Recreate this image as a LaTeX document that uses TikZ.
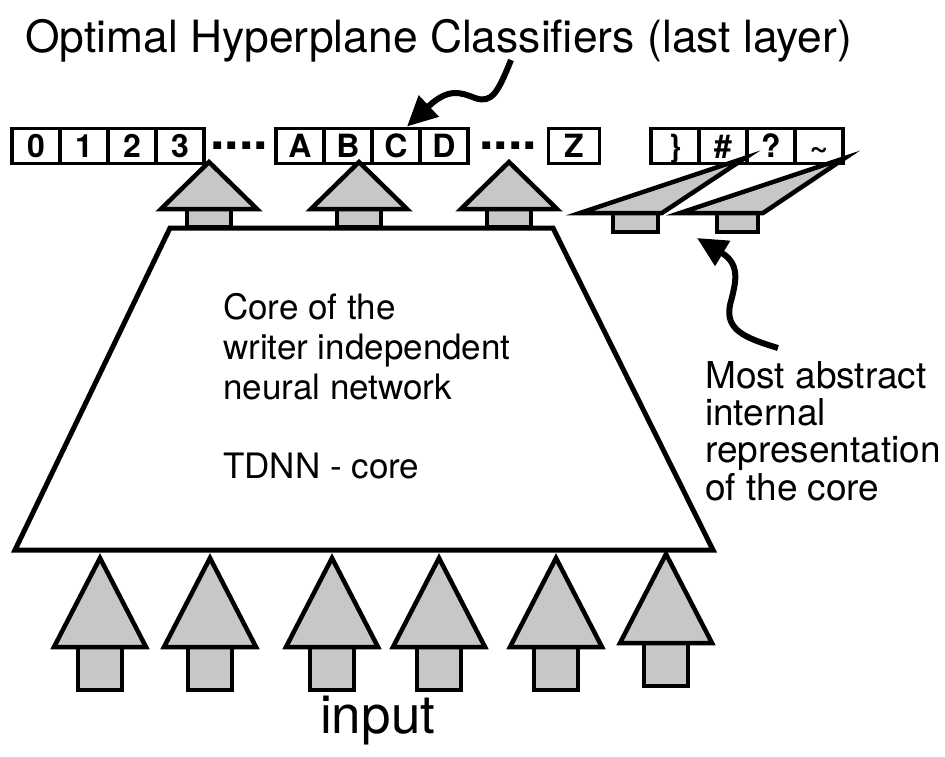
\documentclass[tikz,border=0pt]{standalone}
\usepackage{fontspec}
\setmainfont{TeX Gyre Heros}
\usetikzlibrary{positioning, arrows.meta}

\begin{document}
\begin{tikzpicture}[x=1pt, y=-1pt,
  cls/.style = {draw, line width=3.5pt, minimum width=48pt, minimum height=35pt, inner sep=0pt, outer sep=0pt, text height=23pt, text depth=0pt, font=\fontsize{32}{32}\selectfont\bfseries},
  ellip/.style = {inner sep=0pt, font=\fontsize{52}{52}\selectfont\bfseries},
  shade/.style = {draw, line width=4.5pt, fill=black!22},
  lbl/.style = {inner sep=0pt, align=left, font=\fontsize{35}{40}\selectfont},
  curl/.style = {line width=6pt, -{Triangle[length=30pt, width=28pt]}},
  bigup/.pic = {\draw[shade] (-22,0) rectangle (22,43); \draw[shade] (-46,0) -- (0,-89) -- (46,0) -- cycle;},
  topup/.pic = {\draw[shade] (-22,0) rectangle (22,18); \draw[shade] (-48,0) -- (0,-47) -- (48,0) -- cycle;}]
\useasboundingbox (0,0) rectangle (945,757);

\node[inner sep=0pt, anchor=base west, font=\fontsize{44.4}{44.4}\selectfont] (title) at (25,53) {Optimal Hyperplane Classifiers (last layer)};

\node[cls] (n0) at (36,146) {0};
\node[cls] (n1) [right=0pt of n0] {1};
\node[cls] (n2) [right=0pt of n1] {2};
\node[cls] (n3) [right=0pt of n2] {3};
\node[ellip] (dots1) [right=6pt of n3] {....};
\node[cls] (nA) at (300,146) {A};
\node[cls] (nB) [right=0pt of nA] {B};
\node[cls] (nC) [right=0pt of nB] {C};
\node[cls] (nD) [right=0pt of nC] {D};
\node[ellip] (dots2) [right=11pt of nD] {....};
\node[cls, minimum width=51pt] (nZ) at (574,146) {Z};
\node[cls] (nbr) at (675,146) {\}};
\node[cls] (nhash) [right=0pt of nbr] {\#};
\node[cls] (nq) [right=0pt of nhash] {?};
\node[cls] (ntil) [right=0pt of nq] {\textasciitilde};

\foreach \x in {209,359,509} \pic at (\x,209) {topup};
\draw[shade] (613,213) rectangle (658,232);
\draw[shade] (580,213) -- (745,158) -- (662,213) -- cycle;
\draw[shade] (717,213) rectangle (758,232);
\draw[shade] (680,213) -- (845,158) -- (763,213) -- cycle;

\draw[line width=5pt] (170,228) -- (553,228) -- (713,550) -- (15,550) -- cycle;

\node[lbl, anchor=north west] (core) at (223,293) {Core of the\\writer independent\\neural network};
\node[lbl, anchor=base west] (tdnn) at (223,478) {TDNN - core};
\node[lbl, anchor=north west, font=\fontsize{37}{37.3}\selectfont] (abstr) at (705,361) {Most abstract\\internal\\representation\\of the core};

\foreach \x in {100,210,332,439,556} \pic at (\x,647) {bigup};
\pic at (666,643) {bigup};

\node[inner sep=0pt, anchor=base west, font=\fontsize{53}{53}\selectfont] (inp) at (320,733) {input};

\coordinate (ctail) at (511,60);
\coordinate (rtail) at (778,348);
\coordinate (rtip) at (697,238);
\draw[curl] (ctail) .. controls (498,92) and (492,104) .. (475,98) .. controls (460,92) and (448,88) .. ([xshift=-13pt, yshift=2pt]nC.north east);
\draw[curl] (rtail) .. controls (745,338) and (725,330) .. (730,305) .. controls (735,285) and (742,265) .. (rtip);
\end{tikzpicture}
\end{document}
